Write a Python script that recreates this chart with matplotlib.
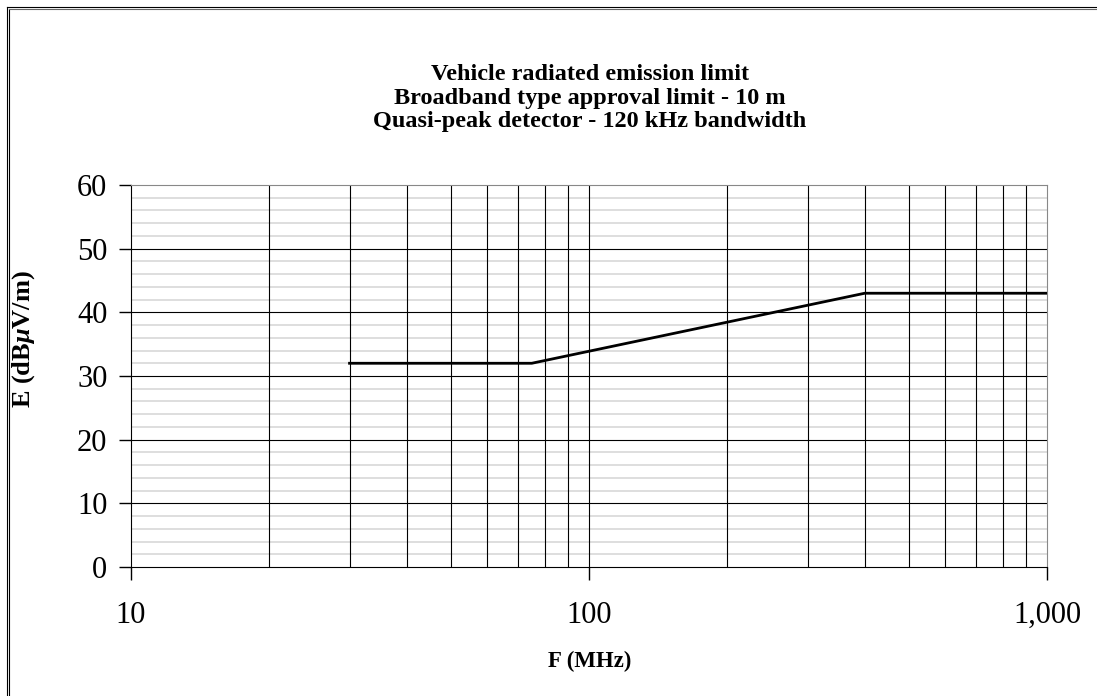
import matplotlib.pyplot as plt
from matplotlib.lines import Line2D
from matplotlib.ticker import FixedLocator, FuncFormatter, MultipleLocator

plt.rcParams["font.family"] = ["Liberation Serif", "DejaVu Serif"]
plt.rcParams["mathtext.fontset"] = "custom"
plt.rcParams["mathtext.it"] = "Liberation Serif:italic:bold"

# limit curve
freq_mhz = [30, 75, 400, 1000]
limit_db = [32, 32, 43, 43]

title_lines = ["Vehicle radiated emission limit",
               "Broadband type approval limit - 10 m",
               "Quasi-peak detector - 120 kHz bandwidth"]

fig = plt.figure(figsize=(10.97, 6.96), dpi=100)
ax = fig.add_axes([131 / 1097, 1 - 567 / 696, 916 / 1097, 382 / 696])

# grid
vlines = [20, 30, 40, 50, 60, 70, 80, 90, 100, 200, 300, 400, 500, 600, 700, 800, 900]
for v in vlines:
    ax.axvline(v, color="black", lw=0.8, zorder=1)
for y in range(2, 60, 2):
    if y % 10 == 0:
        ax.axhline(y, color="black", lw=0.8, zorder=1)
    else:
        ax.axhline(y, color="#d4d4d4", lw=1.1, zorder=0)

ax.plot(freq_mhz, limit_db, color="black", lw=2.0, zorder=3)

ax.set_xscale("log")
ax.set_xlim(10, 1000)
ax.set_ylim(0, 60)
ax.xaxis.set_major_locator(FixedLocator([10, 100, 1000]))
ax.xaxis.set_minor_locator(FixedLocator([]))
ax.xaxis.set_major_formatter(FuncFormatter(lambda v, p: "{:,.0f}".format(v)))
ax.yaxis.set_major_locator(MultipleLocator(10))
ax.tick_params(axis="both", labelsize=22, length=9, width=1, color="black")
ax.tick_params(axis="x", pad=15.5)
ax.tick_params(axis="y", pad=8)

for s in ["top", "right"]:
    ax.spines[s].set_color("#888888")
for s in ["left", "bottom"]:
    ax.spines[s].set_color("black")

fig.text(590 / 1097, 1 - 661 / 696, "F (MHz)", ha="center", va="center",
         fontsize=16.5, fontweight="bold")
fig.text(24 / 1097, 1 - 339 / 696, r"E (dB$\mathit{\mu}$V/m)", ha="center", va="center",
         rotation=90, fontsize=19, fontweight="bold")

for i, t in enumerate(title_lines):
    fig.text(590 / 1097, 1 - (75 + 23.5 * i) / 696, t, ha="center", va="center",
             fontsize=17.5, fontweight="bold")

# outer frame
fig.add_artist(Line2D([6.5 / 1097, 6.5 / 1097], [0, 1 - 6.5 / 696], color="black", lw=0.8))
fig.add_artist(Line2D([8.5 / 1097, 8.5 / 1097], [0, 1 - 8.5 / 696], color="black", lw=0.8))
fig.add_artist(Line2D([6.5 / 1097, 1], [1 - 6.5 / 696, 1 - 6.5 / 696], color="black", lw=0.8))
fig.add_artist(Line2D([8.5 / 1097, 1], [1 - 8.5 / 696, 1 - 8.5 / 696], color="#666666", lw=0.8))

fig.savefig("out.png", dpi=100)
